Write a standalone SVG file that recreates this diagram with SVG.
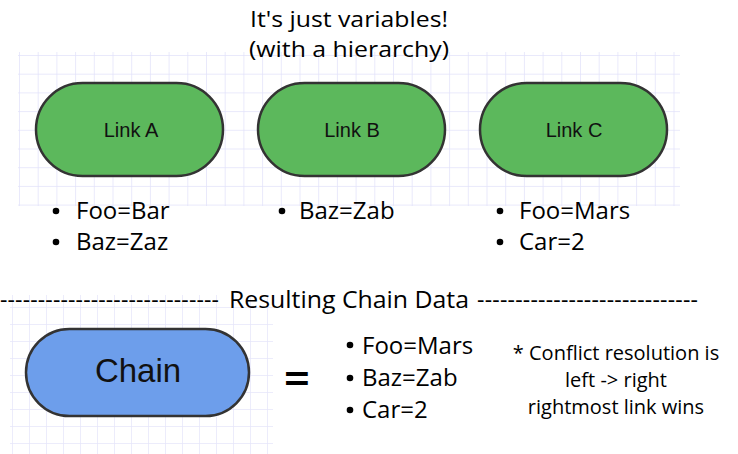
<svg xmlns="http://www.w3.org/2000/svg" width="738" height="454" viewBox="0 0 738 454">
<style>
.t{font-family:"Open Sans","DejaVu Sans",sans-serif;fill:#000}
.b{font-size:24px}
.d{fill:#000}
.n{font-family:"Liberation Sans",Arial,sans-serif;fill:#111;text-anchor:middle}
.link{fill:#5cb85c;stroke:#333;stroke-width:2.5}
.chain{fill:#6d9eeb;stroke:#333;stroke-width:2.5}
</style>
<defs>
<pattern id="g1" x="19" y="55" width="18.7" height="18.7" patternUnits="userSpaceOnUse">
<path d="M0 0V18.7M0 0H18.7" fill="none" stroke="#e2e2fa" stroke-width="1.5"/>
</pattern>
<pattern id="g2" x="12" y="307" width="17" height="17" patternUnits="userSpaceOnUse">
<path d="M0 0V17M0 0H17" fill="none" stroke="#e6e6fa" stroke-width="1.5"/>
</pattern>
</defs>
<rect x="18" y="52" width="662" height="154" fill="url(#g1)"/>
<rect x="10" y="295" width="263" height="159" fill="url(#g2)"/>

<g id="title" class="t" font-size="22" text-anchor="middle">
<text x="349" y="27" textLength="198" lengthAdjust="spacingAndGlyphs">It's just variables!</text>
<text x="349" y="57" textLength="200" lengthAdjust="spacingAndGlyphs">(with a hierarchy)</text>
</g>

<g id="linkA">
<rect class="link" x="36" y="83" width="187" height="93" rx="46.5"/>
<text class="n" x="131" y="137" font-size="20">Link A</text>
</g>
<g id="linkB">
<rect class="link" x="258" y="83" width="187" height="93" rx="46.5"/>
<text class="n" x="352" y="137" font-size="20">Link B</text>
</g>
<g id="linkC">
<rect class="link" x="480" y="83" width="187" height="93" rx="46.5"/>
<text class="n" x="574" y="137" font-size="20">Link C</text>
</g>

<g id="listA" class="t b">
<circle class="d" cx="56" cy="211" r="3.3"/>
<circle class="d" cx="56" cy="242" r="3.3"/>
<text x="76" y="219">Foo=Bar</text>
<text x="76" y="250">Baz=Zaz</text>
</g>
<g id="listB" class="t b">
<circle class="d" cx="282" cy="211" r="3.3"/>
<text x="299" y="219">Baz=Zab</text>
</g>
<g id="listC" class="t b">
<circle class="d" cx="500" cy="211" r="3.3"/>
<circle class="d" cx="500" cy="242" r="3.3"/>
<text x="519" y="219">Foo=Mars</text>
<text x="519" y="250">Car=2</text>
</g>

<g id="divider" class="t" font-size="23">
<text x="0" y="308" textLength="219" lengthAdjust="spacing">-----------------------------</text>
<text x="229" y="308" textLength="240" lengthAdjust="spacingAndGlyphs">Resulting Chain Data</text>
<text x="477" y="308" textLength="221" lengthAdjust="spacing">-----------------------------</text>
</g>

<g id="chain">
<rect class="chain" x="26" y="329" width="223" height="87" rx="43.5"/>
<text class="n" x="138" y="382" font-size="33">Chain</text>
</g>
<text id="equals" class="t" x="297" y="395" font-size="46" font-weight="600" text-anchor="middle">=</text>

<g id="result" class="t b">
<circle class="d" cx="350" cy="345" r="3.3"/>
<circle class="d" cx="350" cy="378" r="3.3"/>
<circle class="d" cx="350" cy="410" r="3.3"/>
<text x="362" y="354">Foo=Mars</text>
<text x="362" y="386">Baz=Zab</text>
<text x="362" y="418">Car=2</text>
</g>

<g id="note" class="t" font-size="20" text-anchor="middle">
<text x="616" y="360">* Conflict resolution is</text>
<text x="616" y="387">left -&gt; right</text>
<text x="616" y="414">rightmost link wins</text>
</g>
</svg>
